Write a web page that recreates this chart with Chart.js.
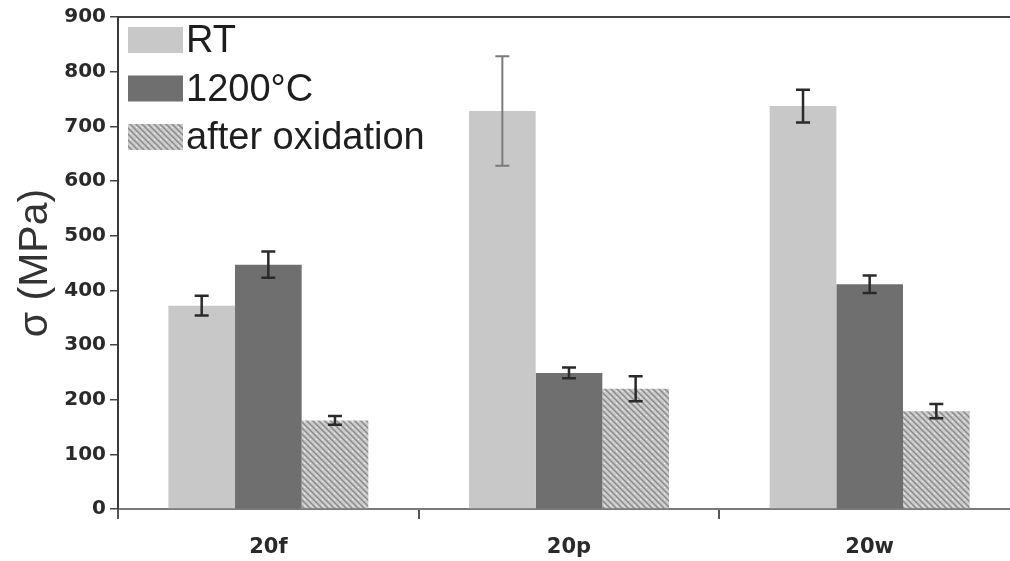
<!DOCTYPE html>
<html><head><meta charset="utf-8">
<script src="https://cdn.jsdelivr.net/npm/chart.js@4.4.0/dist/chart.umd.min.js"></script>
<style>
html,body{margin:0;padding:0;overflow:hidden;background:#fff;width:1010px;height:561px}
#wrap{position:absolute;left:0;top:0;width:1010px;height:561px;overflow:hidden}
</style>
</head><body><div id="wrap"><canvas id="c" width="1010" height="561"></canvas></div>
<script>
// ---- data ----
const categories = ['20f', '20p', '20w'];
const seriesNames = ['RT', '1200°C', 'after oxidation'];
const rtValues  = [372, 728, 737];
const rtErrors  = [18, 100, 30];
const hotValues = [447, 249, 411];
const hotErrors = [24, 10, 16];
const oxValues  = [162, 220, 179];
const oxErrors  = [8, 23, 13];
const yAxisTitle = 'σ (MPa)';
const yMin = 0, yMax = 900, yStep = 100;

function makeHatch() {
  const p = document.createElement('canvas');
  p.width = 6; p.height = 6;
  const g = p.getContext('2d');
  g.fillStyle = '#cbcbcb'; g.fillRect(0, 0, 6, 6);
  g.strokeStyle = '#888888'; g.lineWidth = 1.4;
  g.beginPath();
  g.moveTo(-1, -1); g.lineTo(7, 7);
  g.moveTo(-7, -1); g.lineTo(1, 7);
  g.moveTo(5, -1); g.lineTo(13, 7);
  g.stroke();
  g.fillStyle = '#efefef'; g.fillRect(4, 1, 1, 1);
  return g.createPattern(p, 'repeat');
}

// The original x axis runs a little past the right edge of the picture.
const extendXAxis = {
  id: 'extendXAxis',
  afterLayout(chart) {
    const s = chart.scales.x;
    const len = 902;
    s.width = len;
    s.right = s.left + len;
    chart.chartArea.right = s.right;
    chart.chartArea.width = len;
    s.configure();
  }
};

const errorBarPlugin = {
  id: 'errorBars',
  afterDatasetsDraw(chart) {
    const ctx = chart.ctx, y = chart.scales.y;
    chart.data.datasets.forEach((ds, i) => {
      const meta = chart.getDatasetMeta(i);
      meta.data.forEach((bar, j) => {
        const v = ds.data[j], e = ds.errors[j];
        const yt = y.getPixelForValue(v + e), yb = y.getPixelForValue(v - e);
        const light = (i === 0 && j === 1);
        ctx.save();
        ctx.strokeStyle = light ? '#7a7a7a' : '#2a2a2a';
        ctx.lineWidth = light ? 2 : 2.5;
        ctx.beginPath();
        ctx.moveTo(bar.x, yt); ctx.lineTo(bar.x, yb);
        ctx.moveTo(bar.x - 7, yt); ctx.lineTo(bar.x + 7, yt);
        ctx.moveTo(bar.x - 7, yb); ctx.lineTo(bar.x + 7, yb);
        ctx.stroke();
        ctx.restore();
      });
    });
  }
};

const insetLegend = {
  id: 'insetLegend',
  afterDraw(chart) {
    const ctx = chart.ctx, a = chart.chartArea;
    ctx.save();
    ctx.font = '38px "Liberation Sans", Arial, sans-serif';
    ctx.textBaseline = 'middle';
    ctx.textAlign = 'left';
    chart.data.datasets.forEach((ds, i) => {
      const cy = a.top + 23 + i * 48.5;
      ctx.fillStyle = ds.backgroundColor;
      ctx.fillRect(a.left + 10, cy - 13, 55, 26);
      ctx.fillStyle = '#1e1e1e';
      ctx.fillText(ds.label, a.left + 68, cy + 2);
    });
    ctx.restore();
  }
};

const hatch = makeHatch();

new Chart(document.getElementById('c'), {
  type: 'bar',
  data: {
    labels: categories,
    datasets: [
      { label: seriesNames[0], data: rtValues, errors: rtErrors, backgroundColor: '#c8c8c8' },
      { label: seriesNames[1], data: hotValues, errors: hotErrors, backgroundColor: '#6f6f6f' },
      { label: seriesNames[2], data: oxValues, errors: oxErrors, backgroundColor: hatch }
    ]
  },
  options: {
    responsive: false,
    animation: false,
    devicePixelRatio: 1,
    layout: { padding: { left: 0, right: 0, top: 0, bottom: 0 } },
    datasets: { bar: { categoryPercentage: 0.665, barPercentage: 1.0, borderWidth: 0 } },
    plugins: { legend: { display: false }, tooltip: { enabled: false } },
    scales: {
      x: {
        type: 'category',
        grid: { display: true, drawOnChartArea: false, drawTicks: true, tickLength: 10, color: '#555', lineWidth: 2, offset: true },
        border: { display: true, color: '#7a7a7a', width: 2 },
        ticks: { font: { family: 'DejaVu Sans', weight: 'bold', size: 21 }, color: '#2a2a2a', padding: 16 },
        afterFit(s) { s.height = 52; }
      },
      xTop: {
        type: 'category',
        position: 'top',
        labels: categories,
        grid: { display: false, drawTicks: false },
        border: { display: true, color: '#444', width: 2 },
        ticks: { display: false },
        afterFit(s) { s.height = 17; }
      },
      y: {
        min: yMin, max: yMax,
        ticks: { stepSize: yStep, font: { family: 'DejaVu Sans', weight: 'bold', size: 20 }, color: '#2a2a2a', padding: 4 },
        grid: { display: true, drawOnChartArea: false, drawTicks: true, tickLength: 8, color: '#444', lineWidth: 1.5 },
        border: { display: true, color: '#3a3a3a', width: 2 },
        title: { display: true, text: yAxisTitle, font: { family: 'Liberation Sans', size: 41 }, color: '#333', padding: { top: 11, bottom: 0 } },
        afterFit(s) { s.width = 118; }
      }
    }
  },
  plugins: [extendXAxis, errorBarPlugin, insetLegend]
});
</script>
</body></html>
